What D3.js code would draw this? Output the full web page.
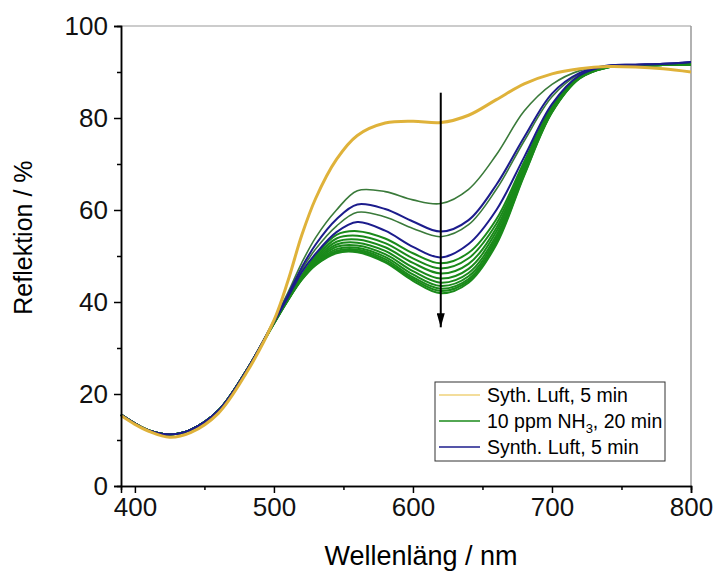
<!DOCTYPE html>
<html>
<head>
<meta charset="utf-8">
<script src="https://cdn.jsdelivr.net/npm/d3@7"></script>
<style>
  body { margin: 0; background: #fff; }
  svg text { font-family: "Liberation Sans", Arial, sans-serif; }
</style>
</head>
<body>
<svg id="chart" width="715" height="572"></svg>
<script>
// wavelength grid (nm)
const wavelengths = [390, 400, 410, 425, 440, 460, 480, 500, 510, 520, 530, 545, 560, 580, 600, 620, 640, 660, 680, 700, 720, 740, 760, 780, 800];

// Syth. Luft, 5 min
const luftStart = [15.3, 13.4, 11.9, 10.6, 11.6, 15.8, 24.5, 36.0, 44.5, 54.5, 62.5, 71.0, 76.2, 78.9, 79.3, 79.0, 80.6, 84.0, 87.4, 89.6, 90.7, 91.2, 91.1, 90.7, 90.0];

// common start of the NH3 / recovery curves (390-480 nm)
const commonStart = [15.5, 13.6, 12.1, 11.2, 12.2, 16.4, 25.0];

// 10 ppm NH3 curves (top to bottom)
const nh3 = [
  [36.0, 42.0, 48.5, 54.0, 60.0, 64.2, 64.0, 62.2, 61.4, 64.5, 72.0, 81.5, 87.3, 90.3, 91.3, 91.5, 91.6, 91.8],
  [35.7, 41.2, 47.0, 51.5, 56.5, 59.5, 58.5, 56.0, 54.2, 56.8, 64.5, 75.0, 84.6, 89.6, 91.3, 91.5, 91.6, 91.8],
  [35.6, 40.8, 45.8, 50.0, 54.6, 55.4, 53.8, 50.6, 48.4, 50.7, 58.0, 70.5, 82.5, 89.1, 91.2, 91.5, 91.6, 91.7],
  [35.5, 40.7, 45.6, 49.6, 53.8, 54.4, 52.8, 49.5, 47.3, 49.5, 57.0, 70.0, 82.2, 89.0, 91.2, 91.5, 91.6, 91.7],
  [35.5, 40.6, 45.4, 49.3, 53.1, 53.6, 51.9, 48.5, 46.2, 48.3, 56.1, 69.5, 82.0, 88.9, 91.2, 91.4, 91.5, 91.7],
  [35.5, 40.6, 45.3, 49.0, 52.5, 52.9, 51.1, 47.5, 45.1, 47.2, 55.3, 69.1, 81.8, 88.9, 91.1, 91.4, 91.5, 91.6],
  [35.4, 40.5, 45.2, 48.7, 52.0, 52.3, 50.4, 46.7, 44.2, 46.3, 54.5, 68.7, 81.6, 88.8, 91.1, 91.4, 91.5, 91.6],
  [35.4, 40.5, 45.1, 48.5, 51.5, 51.8, 49.8, 46.0, 43.5, 45.6, 53.9, 68.3, 81.5, 88.8, 91.1, 91.4, 91.5, 91.6],
  [35.4, 40.4, 45.0, 48.3, 51.1, 51.4, 49.3, 45.4, 42.9, 45.0, 53.3, 68.0, 81.4, 88.7, 91.0, 91.4, 91.5, 91.6],
  [35.3, 40.4, 44.9, 48.1, 50.8, 51.1, 48.9, 45.0, 42.4, 44.6, 52.9, 67.7, 81.3, 88.7, 91.0, 91.3, 91.5, 91.6],
  [35.3, 40.3, 44.8, 48.0, 50.6, 50.8, 48.6, 44.6, 41.9, 44.2, 52.5, 67.5, 81.2, 88.6, 91.0, 91.3, 91.5, 91.6]
];

// Synth. Luft, 5 min (recovery)
const recovery = [
  [35.8, 41.5, 47.5, 52.5, 58.0, 61.2, 60.2, 57.5, 55.3, 57.8, 65.5, 75.8, 85.3, 89.8, 91.4, 91.6, 91.8, 92.2],
  [35.6, 41.0, 46.5, 50.5, 55.2, 57.4, 55.5, 52.0, 49.7, 52.6, 60.0, 71.5, 83.0, 89.3, 91.3, 91.6, 91.8, 92.2]
];

const legendLabels = ['Syth. Luft, 5 min', '10 ppm NH3, 20 min', 'Synth. Luft, 5 min'];
const colors = { luft: '#dfb23a', nh3: '#1a8a1a', nh3Top: '#3a7a3a', rec: '#1c1c8c' };

const xTicks = [400, 500, 600, 700, 800];
const yTicks = [0, 20, 40, 60, 80, 100];
const arrow = { nm: 620, from: 85.5, to: 34.5 };

const margin = { left: 121, right: 24, top: 26, bottom: 86 };
const width = 715, height = 572;

const svg = d3.select('#chart');

const x = d3.scaleLinear().domain([390, 800]).range([margin.left, width - margin.right]);
const y = d3.scaleLinear().domain([0, 100]).range([height - margin.bottom, margin.top]);

// frame (top + right in grey)
svg.append('line')
    .attr('x1', x(390)).attr('x2', x(800)).attr('y1', y(100)).attr('y2', y(100))
    .attr('stroke', '#999').attr('stroke-width', 1);
svg.append('line')
    .attr('x1', x(800)).attr('x2', x(800)).attr('y1', y(100)).attr('y2', y(0))
    .attr('stroke', '#999').attr('stroke-width', 1.5);

const line = d3.line()
    .x((d, i) => x(wavelengths[i]))
    .y(d => y(d))
    .curve(d3.curveCatmullRom.alpha(0.5));

const plot = svg.append('g');

// NH3 curves first, then recovery, then initial air on top
nh3.forEach((vals, k) => {
    plot.append('path')
        .datum(commonStart.concat(vals))
        .attr('fill', 'none')
        .attr('stroke', k < 2 ? colors.nh3Top : colors.nh3)
        .attr('stroke-width', k < 2 ? 1.6 : 2)
        .attr('d', line);
});
recovery.forEach(vals => {
    plot.append('path')
        .datum(commonStart.concat(vals))
        .attr('fill', 'none')
        .attr('stroke', colors.rec)
        .attr('stroke-width', 2)
        .attr('d', line);
});
plot.append('path')
    .datum(luftStart)
    .attr('fill', 'none')
    .attr('stroke', colors.luft)
    .attr('stroke-width', 3)
    .attr('d', line);

// arrow
svg.append('defs').append('marker')
    .attr('id', 'head')
    .attr('viewBox', '0 0 10 10')
    .attr('refX', 10).attr('refY', 5)
    .attr('markerWidth', 14).attr('markerHeight', 8)
    .attr('markerUnits', 'userSpaceOnUse')
    .attr('orient', 'auto')
    .attr('preserveAspectRatio', 'none')
    .append('path').attr('d', 'M0,0 L10,5 L0,10 Z').attr('fill', '#000');

svg.append('line')
    .attr('x1', x(arrow.nm)).attr('x2', x(arrow.nm))
    .attr('y1', y(arrow.from)).attr('y2', y(arrow.to))
    .attr('stroke', '#000').attr('stroke-width', 2)
    .attr('marker-end', 'url(#head)');

// axes
const xAxis = svg.append('g')
    .attr('transform', `translate(0, ${y(0)})`)
    .call(d3.axisBottom(x).tickValues(xTicks).tickSize(7).tickPadding(5).tickFormat(d3.format('d')));
const xMinor = svg.append('g')
    .attr('transform', `translate(0, ${y(0)})`)
    .call(d3.axisBottom(x).tickValues([450, 550, 650, 750]).tickSize(4).tickFormat(''));
const yAxis = svg.append('g')
    .attr('transform', `translate(${x(390)}, 0)`)
    .call(d3.axisLeft(y).tickValues(yTicks).tickSize(7).tickPadding(6));
const yMinor = svg.append('g')
    .attr('transform', `translate(${x(390)}, 0)`)
    .call(d3.axisLeft(y).tickValues([10, 30, 50, 70, 90]).tickSize(4).tickFormat(''));

[xAxis, xMinor, yAxis, yMinor].forEach(a => {
    a.select('.domain').attr('stroke', '#000').attr('stroke-width', 1.5);
    a.selectAll('.tick line').attr('stroke', '#000').attr('stroke-width', 1.5);
    a.selectAll('.tick text').style('font-size', '26px').attr('fill', '#111');
});

svg.append('text')
    .text('Wellenläng / nm')
    .attr('x', 421).attr('y', 565)
    .attr('text-anchor', 'middle')
    .style('font-size', '27px');

svg.append('text')
    .text('Reflektion / %')
    .attr('transform', `translate(32, ${y(54)}) rotate(-90)`)
    .attr('text-anchor', 'middle')
    .style('font-size', '25px');

// legend
const lg = svg.append('g').attr('transform', 'translate(435, 382)');
lg.append('rect')
    .attr('width', 230).attr('height', 79)
    .attr('fill', '#fff').attr('stroke', '#333').attr('stroke-width', 1);

const legendColors = ['#efd27a', colors.nh3, colors.rec];
legendLabels.forEach((lab, i) => {
    const ly = 13 + i * 26;
    const t = lg.append('text')
        .attr('x', 52).attr('y', ly + 7)
        .style('font-size', '19.5px');
    lg.append('line')
        .attr('x1', 4).attr('x2', 45).attr('y1', ly).attr('y2', ly)
        .attr('stroke', legendColors[i]).attr('stroke-width', 1.5);
    if (lab.includes('NH3')) {
        t.append('tspan').text('10 ppm NH');
        t.append('tspan').text('3').attr('dy', 5).style('font-size', '13px');
        t.append('tspan').text(', 20 min').attr('dy', -5);
    } else {
        t.text(lab);
    }
});
</script>
</body>
</html>
